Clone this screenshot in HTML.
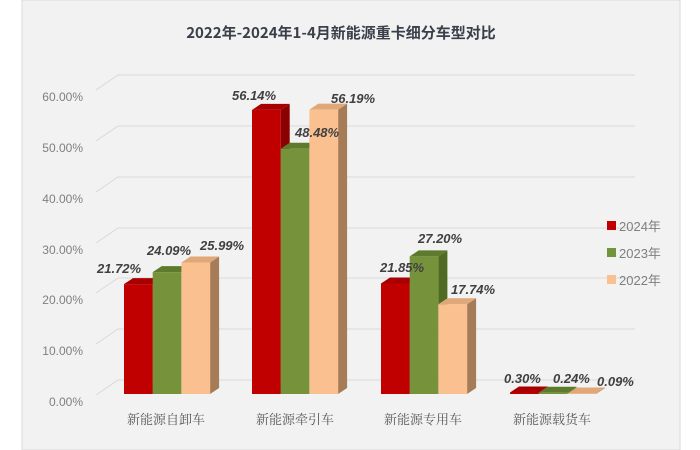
<!DOCTYPE html>
<html><head><meta charset="utf-8"><style>
html,body{margin:0;padding:0;background:#fff;}
svg{display:block;font-family:"Liberation Sans","Noto Sans CJK SC",sans-serif;}
</style></head><body>
<svg width="700" height="450" viewBox="0 0 700 450">
<rect x="0" y="0" width="700" height="450" fill="#fff"/>
<rect x="22" y="0" width="658" height="450" fill="#f2f2f2" stroke="#d9d9d9"/>
<text x="341" y="38" text-anchor="middle" font-size="15" font-weight="bold" fill="#3a3f4a" font-family="'Noto Sans CJK SC',sans-serif">2022年-2024年1-4月新能源重卡细分车型对比</text>
<g stroke="#d9d9d9" stroke-width="1" fill="none">
<path d="M96 395 L118 380 L635 380"/>
<path d="M96 344 L118 329 L635 329"/>
<path d="M96 293 L118 278 L635 278"/>
<path d="M96 243 L118 228 L635 228"/>
<path d="M96 192 L118 177 L635 177"/>
<path d="M96 141 L118 126 L635 126"/>
<path d="M96 90 L118 75 L635 75"/>
</g>
<g font-size="12" fill="#7f7f7f" text-anchor="end">
<text x="83" y="406">0.00%</text>
<text x="83" y="355">10.00%</text>
<text x="83" y="304">20.00%</text>
<text x="83" y="254">30.00%</text>
<text x="83" y="203">40.00%</text>
<text x="83" y="152">50.00%</text>
<text x="83" y="101">60.00%</text>
</g>
<g id="bars"></g>
<g font-size="13" font-weight="bold" font-style="italic" fill="#404040">
<text x="97" y="273">21.72%</text>
<text x="147" y="255">24.09%</text>
<text x="200" y="250">25.99%</text>
<text x="232" y="100">56.14%</text>
<text x="295" y="137">48.48%</text>
<text x="331" y="103">56.19%</text>
<text x="380" y="272">21.85%</text>
<text x="418" y="243">27.20%</text>
<text x="451" y="294">17.74%</text>
<text x="504" y="383">0.30%</text>
<text x="553" y="383">0.24%</text>
<text x="597" y="386">0.09%</text>
</g>
<g font-size="13" fill="#595959" text-anchor="middle" font-family="'Noto Serif CJK SC',serif">
<text x="166" y="424">新能源自卸车</text>
<text x="295" y="424">新能源牵引车</text>
<text x="423" y="424">新能源专用车</text>
<text x="552" y="424">新能源载货车</text>
</g>
<rect x="607" y="221" width="9" height="9" fill="#c00000"/>
<rect x="607" y="248" width="9" height="9" fill="#70963a"/>
<rect x="607" y="275" width="9" height="9" fill="#fac090"/>
<g font-size="13" fill="#7f7f7f">
<text x="619" y="231">2024年</text>
<text x="619" y="258">2023年</text>
<text x="619" y="285">2022年</text>
</g>
<script>
(function(){
var g=document.getElementById('bars');
var ns='http://www.w3.org/2000/svg';
var cols=[['#c00000','#8b0000','#a80000'],['#76933c','#4f6a22','#5e7a2c'],['#fac090','#a67c58','#e0a878']];
var data=[[21.72,24.09,25.99],[56.14,48.48,56.19],[21.85,27.20,17.74],[0.30,0.24,0.09]];
var xs=[124,252,381,510];
var w=28.7,dx=9,dy=6,base=394,k=5.06;
function poly(pts,f){var p=document.createElementNS(ns,'polygon');p.setAttribute('points',pts);p.setAttribute('fill',f);g.appendChild(p);}
for(var i=0;i<4;i++){
 for(var j=2;j>=0;j--){} 
 for(var j=0;j<3;j++){
  var x=xs[i]+j*w,h=data[i][j]*k,t=base-h;
  poly((x+w)+','+t+' '+(x+w+dx)+','+(t-dy)+' '+(x+w+dx)+','+(base-dy)+' '+(x+w)+','+base,cols[j][1]);
  poly(x+','+t+' '+(x+dx)+','+(t-dy)+' '+(x+w+dx)+','+(t-dy)+' '+(x+w)+','+t,cols[j][2]);
  poly(x+','+t+' '+(x+w)+','+t+' '+(x+w)+','+base+' '+x+','+base,cols[j][0]);
 }
}
})();
</script>
</svg>
</body></html>
